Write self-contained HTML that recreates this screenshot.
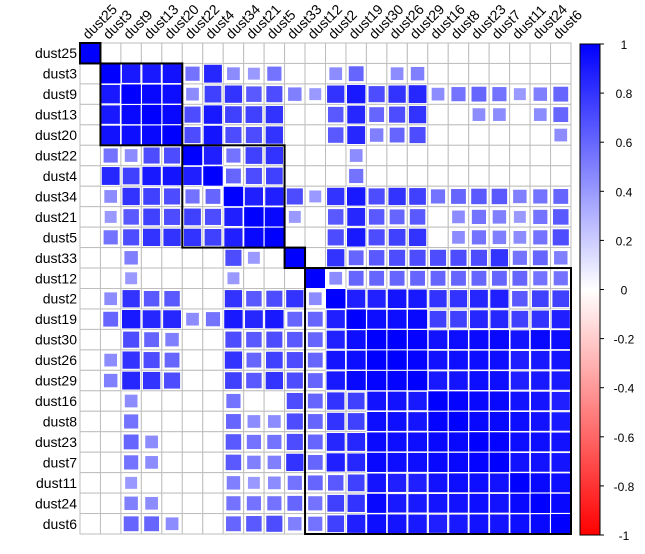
<!DOCTYPE html>
<html><head><meta charset="utf-8"><style>
body{margin:0;background:#fff;width:645px;height:549px;overflow:hidden}
svg text{font-family:"Liberation Sans",sans-serif}
</style></head><body>
<svg id="chart" width="645" height="549" xmlns="http://www.w3.org/2000/svg">
<defs><linearGradient id="cg" x1="0" y1="0" x2="0" y2="1">
<stop offset="0" stop-color="#0000FF"/><stop offset="0.5" stop-color="#FFFFFF"/><stop offset="1" stop-color="#FF0000"/></linearGradient></defs>
<g id="cells"></g><g id="grid"></g><g id="marks"></g><g id="boxes"></g><g id="labels"></g>
<rect x="580" y="44" width="20" height="491" fill="url(#cg)" stroke="#000" stroke-width="1"/>
<g id="legend"></g>
</svg>
<script>
const vars = ["dust25","dust3","dust9","dust13","dust20","dust22","dust4","dust34","dust21","dust5","dust33","dust12","dust2","dust19","dust30","dust26","dust29","dust16","dust8","dust23","dust7","dust11","dust24","dust6"];
// upper-triangle values per row: [col, value]
const r0 = [];
const r1 = [[2,0.9],[3,0.9],[4,0.93],[5,0.55],[6,0.85],[7,0.45],[8,0.4],[9,0.55],[12,0.45],[13,0.6],[15,0.45],[16,0.5]];
const r2 = [[3,0.97],[4,0.95],[5,0.45],[6,0.75],[7,0.8],[8,0.65],[9,0.7],[10,0.5],[11,0.4],[12,0.8],[13,0.9],[14,0.7],[15,0.8],[16,0.85],[17,0.45],[18,0.55],[19,0.6],[20,0.55],[21,0.4],[22,0.5],[23,0.6]];
const r3 = [[4,0.97],[5,0.7],[6,0.9],[7,0.75],[8,0.75],[9,0.8],[12,0.65],[13,0.85],[14,0.6],[15,0.7],[16,0.8],[19,0.45],[20,0.45],[22,0.45],[23,0.6]];
const r4 = [[5,0.7],[6,0.92],[7,0.7],[8,0.7],[9,0.8],[12,0.65],[13,0.85],[14,0.5],[15,0.6],[16,0.7],[23,0.45]];
const r5 = [[6,0.88],[7,0.55],[8,0.75],[9,0.8],[13,0.45]];
const r6 = [[7,0.6],[8,0.7],[9,0.75],[13,0.55]];
const r7 = [[8,0.88],[9,0.88],[10,0.7],[11,0.4],[12,0.8],[13,0.9],[14,0.7],[15,0.8],[16,0.75],[17,0.55],[18,0.6],[19,0.65],[20,0.65],[21,0.5],[22,0.55],[23,0.6]];
const r8 = [[9,0.97],[10,0.4],[12,0.65],[13,0.85],[14,0.65],[15,0.6],[16,0.65],[18,0.45],[19,0.55],[20,0.5],[21,0.4],[22,0.55],[23,0.65]];
const r9 = [[12,0.7],[13,0.9],[14,0.7],[15,0.75],[16,0.8],[18,0.45],[19,0.55],[20,0.5],[21,0.45],[22,0.55],[23,0.7]];
const r10 = [[12,0.8],[13,0.6],[14,0.65],[15,0.7],[16,0.7],[17,0.7],[18,0.7],[19,0.7],[20,0.8],[21,0.55],[22,0.6],[23,0.5]];
const r11 = [[12,0.45],[13,0.6],[14,0.6],[15,0.6],[16,0.6],[17,0.6],[18,0.6],[19,0.6],[20,0.6],[21,0.6],[22,0.55],[23,0.55]];
const r12 = [[13,0.88],[14,0.87],[15,0.92],[16,0.9],[17,0.8],[18,0.8],[19,0.85],[20,0.88],[21,0.65],[22,0.75],[23,0.75]];
const r13 = [[14,0.95],[15,0.95],[16,0.97],[17,0.75],[18,0.75],[19,0.85],[20,0.85],[21,0.75],[22,0.8],[23,0.88]];
const r14 = [[15,1.0],[16,0.99],[17,0.93],[18,0.95],[19,0.96],[20,0.97],[21,0.92],[22,0.97],[23,0.95]];
const r15 = [[16,0.99],[17,0.93],[18,0.94],[19,0.95],[20,0.95],[21,0.88],[22,0.9],[23,0.92]];
const r16 = [[17,0.9],[18,0.92],[19,0.95],[20,0.95],[21,0.88],[22,0.9],[23,0.9]];
const r17 = [[18,0.99],[19,0.97],[20,0.97],[21,0.93],[22,0.92],[23,0.88]];
const r18 = [[19,0.97],[20,0.97],[21,0.95],[22,0.93],[23,0.9]];
const r19 = [[20,0.99],[21,0.95],[22,0.95],[23,0.93]];
const r20 = [[21,0.93],[22,0.93],[23,0.92]];
const r21 = [[22,0.97],[23,0.95]];
const r22 = [[23,0.97]];
const upper = [r0,r1,r2,r3,r4,r5,r6,r7,r8,r9,r10,r11,r12,r13,r14,r15,r16,r17,r18,r19,r20,r21,r22,[]];
const clusters = [[0,0],[1,4],[5,9],[10,10],[11,23]];
const legendTicks = [1,0.8,0.6,0.4,0.2,0,-0.2,-0.4,-0.6,-0.8,-1];

const NS="http://www.w3.org/2000/svg";
const n=vars.length, X0=80, Y0=43, W=491, cs=W/n;
const xp=i=>X0+i*cs, yp=i=>Y0+i*cs;
function mk(tag,attrs,parent){const e=document.createElementNS(NS,tag);for(const k in attrs)e.setAttribute(k,attrs[k]);document.getElementById(parent).appendChild(e);return e;}
function col(v){const a=Math.abs(v);const c=Math.round(255*(1-a));return v>=0?`rgb(${c},${c},255)`:`rgb(255,${c},${c})`;}
const M=[];for(let i=0;i<n;i++){M.push(new Array(n).fill(null));M[i][i]=1;}
upper.forEach((row,i)=>row.forEach(([j,v])=>{M[i][j]=v;M[j][i]=v;}));
for(let i=0;i<n;i++)for(let j=0;j<n;j++){
  const c=mk('rect',{x:xp(j),y:yp(i),width:cs,height:cs,fill:'#fff',stroke:'#BEBEBE','stroke-width':1},'grid');
  
  
  const v=M[i][j];
  if(v!==null){
    const s=cs*Math.sqrt(Math.abs(v));
    const m=mk('rect',{x:xp(j)+(cs-s)/2,y:yp(i)+(cs-s)/2,width:s,height:s,fill:col(v),stroke:'#fff','stroke-width':1},'marks');
    
    
  }
}
clusters.forEach(([a,b])=>{
  const r=mk('rect',{x:xp(a),y:yp(a),width:(b-a+1)*cs,height:(b-a+1)*cs,fill:'none',stroke:'#000','stroke-width':2},'boxes');
  
  
});
vars.forEach((v,i)=>{
  const t=mk('text',{x:77,y:yp(i)+cs/2+5,'text-anchor':'end','font-size':14,fill:'#000'},'labels');
  t.textContent=v;
  
  
  const cx=xp(i)+cs/2-2, cy=40;
  const u=mk('text',{x:cx,y:cy,'font-size':14,fill:'#000',transform:`rotate(-45 ${cx} ${cy})`},'labels');
  u.textContent=v;
  
  
});
legendTicks.forEach(t=>{
  const y=44+(1-t)/2*491;
  const l=mk('line',{x1:600,x2:604,y1:y,y2:y,stroke:'#000'},'legend');
  
  
  const tx=mk('text',{x:624,y:y+5,'text-anchor':'middle','font-size':12,fill:'#000'},'legend');
  tx.textContent=String(t);
  
  
});
</script>
</body></html>
